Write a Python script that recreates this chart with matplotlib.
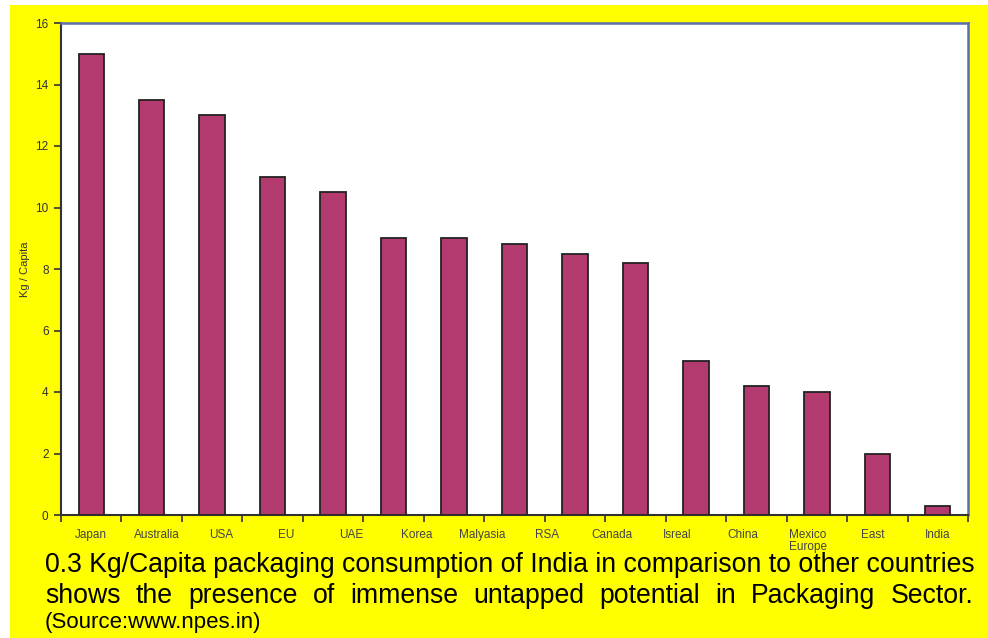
import matplotlib
matplotlib.use("Agg")
import matplotlib.pyplot as plt
import numpy as np

# 15 bars in the picture, but only 14 labels underneath (spread evenly)
kg_per_capita = [15, 13.5, 13, 11, 10.5, 9, 9, 8.8, 8.5, 8.2, 5, 4.2, 4, 2, 0.3]
tick_labels = ["Japan", "Australia", "USA", "EU", "UAE", "Korea", "Malyasia",
               "RSA", "Canada", "Isreal", "China", "Mexico\nEurope", "East", "India"]
y_ticks = [0, 2, 4, 6, 8, 10, 12, 14, 16]

plt.rcParams['font.family'] = ['Liberation Sans', 'DejaVu Sans']

fig = plt.figure(figsize=(9.88, 6.38), dpi=100)
fig.patch.set_facecolor("white")
# yellow background panel
fig.patches.append(plt.Rectangle((10 / 988, 0), 1, 1 - 5 / 638,
                                 transform=fig.transFigure, facecolor="#ffff00",
                                 edgecolor="none", zorder=-1))

ax = fig.add_axes([61 / 988, (638 - 515) / 638, 907 / 988, 492 / 638])
ax.set_zorder(1)
ax.set_facecolor("white")

n = len(kg_per_capita)
x = np.arange(n)
ax.bar(x, kg_per_capita, width=0.42, color="#b23a6e", edgecolor="#222222",
       linewidth=1.3, zorder=3)

ax.set_xlim(-0.5, n - 0.5)
ax.set_ylim(0, 16)
ax.set_yticks(y_ticks)
ax.tick_params(axis="y", direction="out", length=5, width=1.2, color="#333333",
               labelsize=8.5, labelcolor="#333333", pad=4)

ax.set_xticks(np.arange(-0.5, n), minor=False)
ax.set_xticklabels([])
ax.set_xticks(np.linspace(0, n - 1, len(tick_labels)), minor=True)
ax.set_xticklabels(tick_labels, minor=True, fontsize=8.5, color="#444444",
                   va="top", linespacing=1.05)
ax.tick_params(axis="x", which="major", direction="out", length=5, width=1.2,
               color="#333333")
ax.tick_params(axis="x", which="minor", length=0, pad=10)

ax.set_ylabel("Kg / Capita", fontsize=8, color="#333333", labelpad=4)

for side in ["left", "bottom"]:
    ax.spines[side].set_color("#333333")
    ax.spines[side].set_linewidth(1.5)
for side in ["top", "right"]:
    ax.spines[side].set_color("#5a6eb0")
    ax.spines[side].set_linewidth(1.8)

# caption underneath
fig.text(45 / 988, 1 - 572 / 638, "0.3 Kg/Capita packaging consumption of India "
         "in comparison to other countries", fontsize=19.2, va="baseline", ha="left")

line2 = "shows the presence of immense untapped potential in Packaging Sector.".split()
fig.canvas.draw()
renderer = fig.canvas.get_renderer()
left_px, right_px = 45, 973
y2 = 1 - 603 / 638
words = [fig.text(0, y2, w, fontsize=19.2, va="baseline", ha="left") for w in line2]
widths = [t.get_window_extent(renderer).width for t in words]
gap = (right_px - left_px - sum(widths)) / (len(words) - 1)
pos = left_px
for t, w in zip(words, widths):
    t.set_x(pos / 988)
    pos += w + gap

fig.text(45 / 988, 1 - 628 / 638, "(Source:www.npes.in)", fontsize=16,
         va="baseline", ha="left")

fig.savefig("out.png", dpi=100, facecolor=fig.get_facecolor())
